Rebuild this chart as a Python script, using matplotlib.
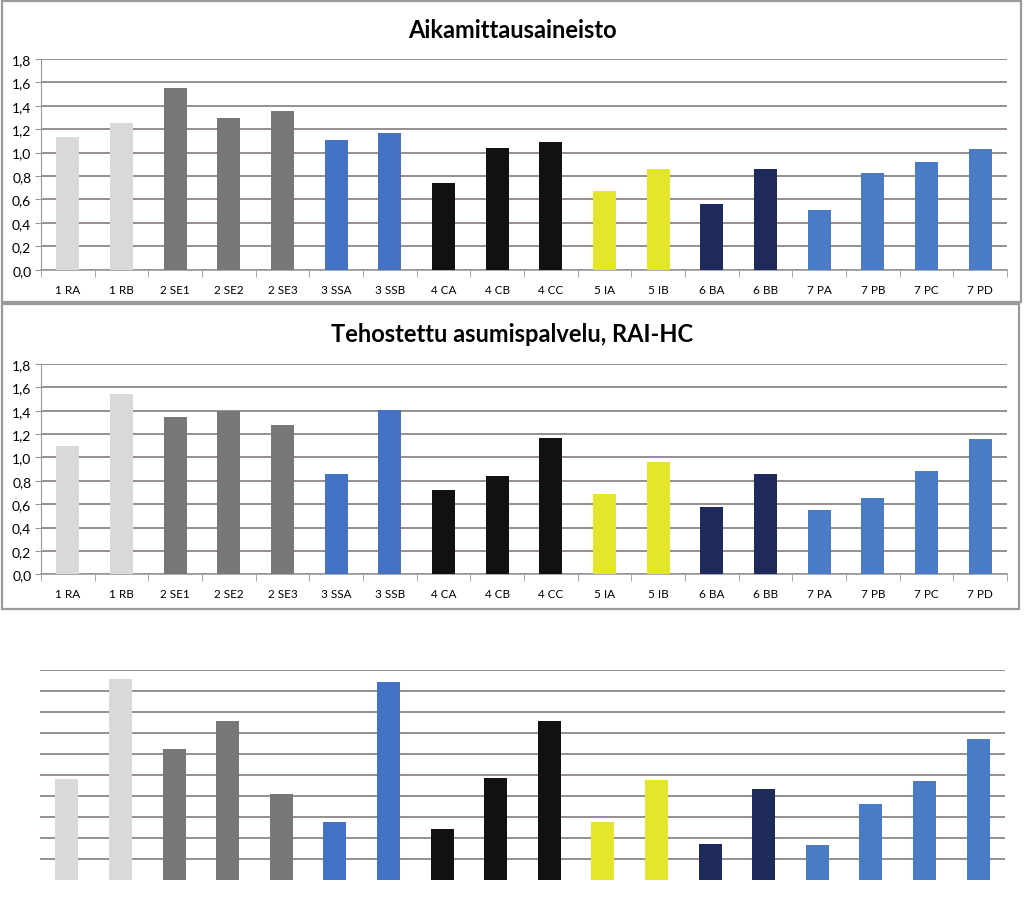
import matplotlib
matplotlib.use("Agg")
import matplotlib.pyplot as plt
from matplotlib.patches import Rectangle

categories = ["1 RA", "1 RB", "2 SE1", "2 SE2", "2 SE3", "3 SSA", "3 SSB",
              "4 CA", "4 CB", "4 CC", "5 IA", "5 IB", "6 BA", "6 BB",
              "7 PA", "7 PB", "7 PC", "7 PD"]
aika = [1.13, 1.25, 1.55, 1.30, 1.36, 1.11, 1.17, 0.74, 1.04, 1.09,
        0.67, 0.86, 0.56, 0.86, 0.51, 0.83, 0.92, 1.03]
raihc = [1.10, 1.54, 1.35, 1.40, 1.28, 0.86, 1.41, 0.72, 0.84, 1.17,
         0.69, 0.96, 0.58, 0.86, 0.55, 0.65, 0.88, 1.16]
third = [4.78, 9.56, 6.23, 7.58, 4.07, 2.78, 9.43, 2.42, 4.83, 7.58,
         2.78, 4.76, 1.72, 4.34, 1.66, 3.62, 4.72, 6.71]
yticks = [0.0, 0.2, 0.4, 0.6, 0.8, 1.0, 1.2, 1.4, 1.6, 1.8]
ytick_labels = ["0,0", "0,2", "0,4", "0,6", "0,8", "1,0", "1,2", "1,4", "1,6", "1,8"]
titles = ["Aikamittausaineisto", "Tehostettu asumispalvelu, RAI-HC"]

group_colors = {"1": "#d9d9d9", "2": "#777879", "3": "#4472c4", "4": "#111111",
                "5": "#e4e62c", "6": "#1f2a5c", "7": "#4a7bc6"}
colors = [group_colors[c.split()[0]] for c in categories]

W, H = 1024, 920
fig = plt.figure(figsize=(W / 100, H / 100), dpi=100)
plt.rcParams['font.family'] = ['Lato', 'DejaVu Sans']

GRID = "#857c7c"


def ax_px(x0, y0, x1, y1):
    return fig.add_axes([x0 / W, 1 - y1 / H, (x1 - x0) / W, (y1 - y0) / H])


def frame(x0, y0, x1, y1):
    fig.patches.append(Rectangle((x0 / W, 1 - y1 / H), (x1 - x0) / W, (y1 - y0) / H,
                                 transform=fig.transFigure, fill=False,
                                 edgecolor="#9a9a9a", linewidth=1.6))


xs = list(range(len(categories)))

panels = [(aika, 60, 270.7, 30), (raihc, 365, 575.3, 335)]
for i, (vals, ytop, ybot, ty) in enumerate(panels):
    ax = ax_px(41, ytop, 1007, ybot)
    ax.bar(xs, vals, width=0.43, color=colors, zorder=3)
    ax.set_xlim(-0.5, len(categories) - 0.5)
    ax.set_ylim(0, 1.8)
    ax.set_yticks(yticks)
    ax.set_yticklabels(ytick_labels, fontsize=10)
    ax.set_xticks(xs)
    ax.set_xticklabels(categories, fontsize=8.5)
    ax.tick_params(axis="x", which="major", length=0, pad=10)
    ax.set_xticks([x + 0.5 for x in range(-1, len(categories))], minor=True)
    ax.tick_params(axis="x", which="minor", length=5, color="#999999", direction="out")
    ax.tick_params(axis="y", length=4, color="#999999", pad=3)
    ax.yaxis.grid(True, color=GRID, linewidth=1.2, zorder=0)
    ax.set_axisbelow(True)
    for s in ["top", "right"]:
        ax.spines[s].set_visible(False)
    ax.spines["left"].set_color("#999999")
    ax.spines["bottom"].set_color("#999999")
    ax.spines["bottom"].set_linewidth(1.2)
    fig.text(512 / W, 1 - ty / H, titles[i], ha="center", va="center",
             fontsize=17, fontweight="bold")

frame(2, 2, 1021, 303)
frame(2, 305, 1019, 610)

ax3 = ax_px(40, 670.7, 1005, 881)
ax3.bar(xs, third, width=0.43, color=colors, zorder=3)
ax3.set_xlim(-0.5, len(categories) - 0.5)
ax3.set_ylim(0, 10)
ax3.set_yticks(range(1, 11))
ax3.yaxis.grid(True, color=GRID, linewidth=1.2, zorder=0)
ax3.set_axisbelow(True)
ax3.tick_params(left=False, bottom=False, labelleft=False, labelbottom=False)
for s in ax3.spines.values():
    s.set_visible(False)

fig.savefig("out.png", dpi=100, facecolor="white")
